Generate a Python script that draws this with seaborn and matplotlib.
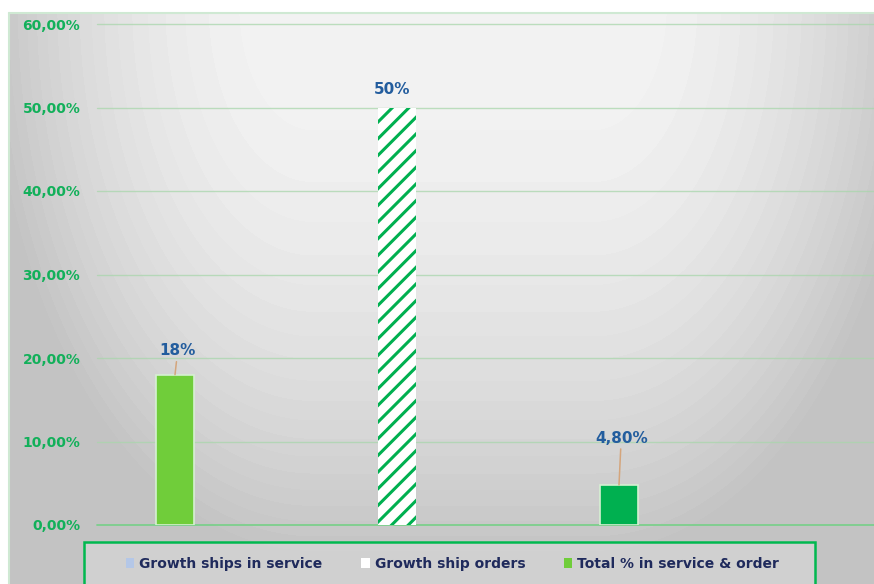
import numpy as np
import matplotlib
matplotlib.use("Agg")
import matplotlib.pyplot as plt
from matplotlib.patches import Patch, Rectangle
from matplotlib.lines import Line2D
import seaborn as sns

# ---------------- data ----------------
categories = ["Growth ships in service", "Growth ship orders", "Total % in service & order"]
values = [18.0, 50.0, 4.8]
value_labels = ["18%", "50%", "4,80%"]
y_ticks = [0, 10, 20, 30, 40, 50, 60]
y_tick_labels = ["0,00%", "10,00%", "20,00%", "30,00%", "40,00%", "50,00%", "60,00%"]
legend_labels = ["Growth ships in service", "Growth ship orders", "Total % in service & order"]

# ---------------- style ----------------
bar_colors = ["#70cd3a", "#ffffff", "#00b050"]
legend_colors = ["#b4c7e7", "#ffffff", "#70cd3a"]
GREEN = "#00b050"
LABEL_BLUE = "#235d9e"
NAVY = "#1f2a5c"

sns.set_theme(style="white")
plt.rcParams["font.family"] = ["DejaVu Sans"]
plt.rcParams["hatch.linewidth"] = 2.2

W, H = 874, 584
fig = plt.figure(figsize=(W / 100, H / 100), dpi=100)
fig.patch.set_facecolor("white")

# ---------------- background gradient ----------------
x0, y0 = 9, 13
ax_bg = fig.add_axes([x0 / W, 0, (W - x0) / W, (H - y0) / H], zorder=-5)
xs = np.arange(x0, W) + 0.5
ys = np.arange(y0, H) + 0.5
X, Y = np.meshgrid(xs, ys)
dx = np.maximum(np.abs(X - 453) - 140, 0) / 330.0
dy = np.maximum(Y - 5, 0) / 560.0
d2 = np.clip(dx ** 2 + dy ** 2, 0, 0.97)
c = 245 - 50 * d2
c = np.floor(c / 2.5) * 2.5
img = np.dstack([c, c, c]) / 255.0
ax_bg.imshow(img, aspect="auto", extent=(x0, W, H, y0), interpolation="nearest")
ax_bg.set_axis_off()

# chart-area border (light green)
fig.add_artist(Line2D([x0 / W, 1], [1 - y0 / H, 1 - y0 / H], color="#cfe9d3", lw=1.5,
                      transform=fig.transFigure))
fig.add_artist(Line2D([x0 / W, x0 / W], [0, 1 - y0 / H], color="#cfe9d3", lw=1.5,
                      transform=fig.transFigure))

# ---------------- main axes ----------------
left, right, top, bottom = 97, 874, 24, 525
ax = fig.add_axes([left / W, 1 - bottom / H, (right - left) / W, (bottom - top) / H])
ax.patch.set_visible(False)

sns.barplot(x=categories, y=values, hue=categories, palette=bar_colors, width=0.167,
            legend=False, errorbar=None, saturation=1, ax=ax, zorder=3)

bars = ax.patches
for i, b in enumerate(bars):
    if i == 1:
        b.set_facecolor("white")
        b.set_hatch("//")
        b.set_edgecolor(GREEN)
        b.set_linewidth(0)
    else:
        b.set_edgecolor("#d6f0d2")
        b.set_linewidth(1.2)

px_per_unit = 222.0
ax.set_xlim(-(175 - left) / px_per_unit, (right - 175) / px_per_unit)
ax.set_ylim(0, 60)
ax.set_xticks([])
ax.set_yticks(y_ticks)
ax.set_yticklabels(y_tick_labels, color="#12b05a", fontsize=10, fontweight="bold")
ax.tick_params(axis="y", length=0, pad=12)
for s in ax.spines.values():
    s.set_visible(False)
ax.set_xlabel("")
ax.set_ylabel("")

# gridlines
for t in y_ticks:
    if t == 0:
        ax.axhline(t, color="#7ccf8c", lw=1.3, zorder=1, clip_on=False)
    else:
        ax.axhline(t, color="#a9d6ac", lw=1.0, alpha=0.75, zorder=1, clip_on=False)

# data labels with leader lines
label_dx = [0.012, -0.02, 0.01]
label_dy = [2.85, 2.1, 5.6]
leader = [True, False, True]
for i, (v, lab) in enumerate(zip(values, value_labels)):
    props = dict(arrowstyle="-", color="#d4a57c", lw=1.1, shrinkA=0, shrinkB=0) if leader[i] else None
    ax.annotate(lab, xy=(i, v), xytext=(i + label_dx[i], v + label_dy[i]),
                ha="center", va="center", fontsize=11, fontweight="bold",
                color=LABEL_BLUE, arrowprops=props, zorder=4, annotation_clip=False)

# ---------------- legend ----------------
fig.add_artist(Rectangle((84 / W, 1 - 592 / H), (815 - 84) / W, (592 - 542) / H,
                         transform=fig.transFigure, facecolor=(1, 1, 1, 0.22),
                         edgecolor="#00b84f", lw=1.8, zorder=2))
handles = [Patch(facecolor=c_, edgecolor="none") for c_ in legend_colors]
fig.legend(handles, legend_labels, loc="center left",
           bbox_to_anchor=(126 / W, 1 - 564 / H), ncol=3, frameon=False,
           prop={"size": 10, "weight": "bold"}, labelcolor=NAVY,
           handlelength=0.6, handleheight=0.75, handletextpad=0.35,
           columnspacing=2.8, borderpad=0, borderaxespad=0)

fig.savefig("out.png", dpi=100)
